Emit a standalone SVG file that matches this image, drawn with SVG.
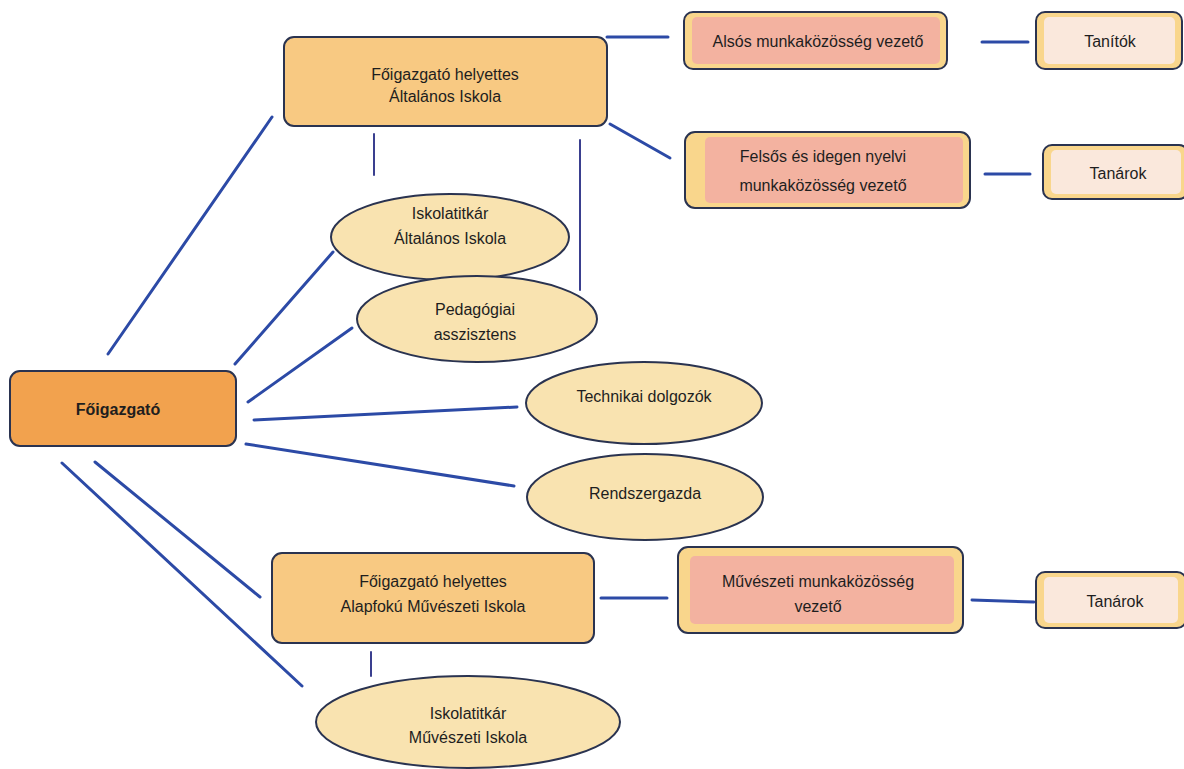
<svg xmlns="http://www.w3.org/2000/svg" width="1184" height="769" viewBox="0 0 1184 769">
<style>
.t{font-family:"Liberation Sans",Arial,sans-serif;font-size:16px;fill:#1e1e1e;text-anchor:middle}
.b{font-weight:bold}
.c{stroke:#2c4aa6;stroke-width:3;fill:none;stroke-linecap:round}
.thin{stroke:#3a3f8f;stroke-width:2}
.box{stroke:#2a3350;stroke-width:2}
.main{fill:#f2a24e}
.dep{fill:#f8c982}
.ell{fill:#f9e3b0;stroke:#2a3350;stroke-width:2}
.outer{fill:#f9d68c;stroke:#2a3350;stroke-width:2}
.pink{fill:#f3b2a0}
.light{fill:#fae8dc}
</style>
<rect width="1184" height="769" fill="#ffffff"/>
<g id="connectors">
<line class="c" x1="108" y1="354" x2="272" y2="117"/>
<line class="c" x1="235" y1="364" x2="333" y2="252"/>
<line class="c" x1="248" y1="402" x2="352" y2="328"/>
<line class="c" x1="254" y1="420" x2="517" y2="407"/>
<line class="c" x1="246" y1="444" x2="514" y2="486"/>
<line class="c" x1="95" y1="462" x2="260" y2="597"/>
<line class="c" x1="62" y1="463" x2="302" y2="686"/>
<line class="c thin" x1="374" y1="134" x2="374" y2="175"/>
<line class="c thin" x1="580" y1="140" x2="580" y2="290"/>
<line class="c" x1="607" y1="37" x2="668" y2="37"/>
<line class="c" x1="610" y1="124" x2="670" y2="158"/>
<line class="c" x1="982" y1="42" x2="1028" y2="42"/>
<line class="c" x1="985" y1="174" x2="1030" y2="174"/>
<line class="c" x1="601" y1="598" x2="667" y2="598"/>
<line class="c" x1="972" y1="600" x2="1034" y2="602"/>
<line class="c thin" x1="371" y1="652" x2="371" y2="676"/>
</g>
<g id="foigazgato">
<rect class="box main" x="10" y="371" width="226" height="75" rx="10"/>
<text class="t b" x="118" y="415">Főigazgató</text>
</g>
<g id="fh-altalanos">
<rect class="box dep" x="284" y="37" width="323" height="89" rx="10"/>
<text class="t" x="445" y="80">Főigazgató helyettes</text>
<text class="t" x="445" y="102">Általános Iskola</text>
</g>
<g id="alsos">
<rect class="outer" x="684" y="12" width="263" height="57" rx="9"/>
<rect class="pink" x="692" y="17" width="248" height="47" rx="5"/>
<text class="t" x="818" y="47">Alsós munkaközösség vezető</text>
</g>
<g id="tanitok">
<rect class="outer" x="1036" y="12" width="146" height="57" rx="9"/>
<rect class="light" x="1044" y="17" width="131" height="47" rx="5"/>
<text class="t" x="1110" y="47">Tanítók</text>
</g>
<g id="felsos">
<rect class="outer" x="685" y="132" width="285" height="76" rx="10"/>
<rect class="pink" x="705" y="137" width="258" height="66" rx="5"/>
<text class="t" x="823" y="162">Felsős és idegen nyelvi</text>
<text class="t" x="823" y="191">munkaközösség vezető</text>
</g>
<g id="tanarok1">
<rect class="outer" x="1043" y="145" width="145" height="54" rx="9"/>
<rect class="light" x="1051" y="150" width="130" height="44" rx="5"/>
<text class="t" x="1118" y="179">Tanárok</text>
</g>
<g id="iskolatitkar-alt">
<ellipse class="ell" cx="450" cy="237" rx="119" ry="43"/>
<text class="t" x="450" y="219">Iskolatitkár</text>
<text class="t" x="450" y="244">Általános Iskola</text>
</g>
<g id="pedagogiai">
<ellipse class="ell" cx="477" cy="319" rx="120" ry="43"/>
<text class="t" x="475" y="315">Pedagógiai</text>
<text class="t" x="475" y="340">asszisztens</text>
</g>
<g id="technikai">
<ellipse class="ell" cx="644" cy="403" rx="118" ry="41"/>
<text class="t" x="644" y="402">Technikai dolgozók</text>
</g>
<g id="rendszergazda">
<ellipse class="ell" cx="645" cy="497" rx="118" ry="43"/>
<text class="t" x="645" y="499">Rendszergazda</text>
</g>
<g id="fh-muveszeti">
<rect class="box dep" x="272" y="553" width="322" height="90" rx="10"/>
<text class="t" x="433" y="587">Főigazgató helyettes</text>
<text class="t" x="433" y="612">Alapfokú Művészeti Iskola</text>
</g>
<g id="muveszeti-mk">
<rect class="outer" x="678" y="547" width="285" height="86" rx="10"/>
<rect class="pink" x="690" y="556" width="264" height="68" rx="5"/>
<text class="t" x="818" y="587">Művészeti munkaközösség</text>
<text class="t" x="818" y="612">vezető</text>
</g>
<g id="tanarok2">
<rect class="outer" x="1036" y="572" width="150" height="56" rx="9"/>
<rect class="light" x="1044" y="577" width="134" height="46" rx="5"/>
<text class="t" x="1115" y="607">Tanárok</text>
</g>
<g id="iskolatitkar-muv">
<ellipse class="ell" cx="468" cy="722" rx="152" ry="46"/>
<text class="t" x="468" y="719">Iskolatitkár</text>
<text class="t" x="468" y="743">Művészeti Iskola</text>
</g>
</svg>
